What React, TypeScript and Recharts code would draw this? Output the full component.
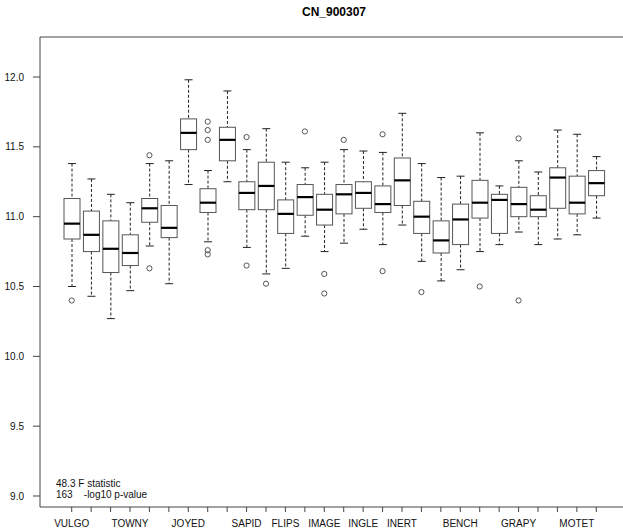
import { ComposedChart, Bar, Scatter, XAxis, YAxis, ReferenceLine } from 'recharts';

// one entry per box; only the labels R had room for are shown
const labels = ['VULGO', '', '', 'TOWNY', '', '', 'JOYED', '', '', 'SAPID', '', 'FLIPS', '', 'IMAGE',
  '', 'INGLE', '', 'INERT', '', '', 'BENCH', '', '', 'GRAPY', '', '', 'MOTET', ''];

const lo = [10.50, 10.43, 10.27, 10.47, 10.79, 10.52, 11.23, 10.82, 11.25, 10.78, 10.59, 10.63, 10.86, 10.75,
  10.81, 10.91, 10.80, 10.94, 10.68, 10.54, 10.62, 10.75, 10.80, 10.89, 10.80, 10.84, 10.87, 10.99];
const q1 = [10.84, 10.75, 10.60, 10.65, 10.96, 10.85, 11.48, 11.03, 11.40, 11.05, 11.05, 10.88, 11.01, 10.94,
  11.02, 11.06, 11.03, 11.08, 10.88, 10.74, 10.80, 10.99, 10.88, 11.00, 11.00, 11.06, 11.02, 11.15];
const med = [10.95, 10.87, 10.77, 10.74, 11.06, 10.92, 11.60, 11.10, 11.55, 11.17, 11.22, 11.02, 11.14, 11.05,
  11.16, 11.17, 11.09, 11.26, 11.00, 10.83, 10.98, 11.10, 11.12, 11.09, 11.05, 11.28, 11.10, 11.24];
const q3 = [11.13, 11.04, 10.97, 10.87, 11.13, 11.08, 11.70, 11.20, 11.64, 11.25, 11.39, 11.12, 11.23, 11.16,
  11.23, 11.25, 11.22, 11.42, 11.11, 10.97, 11.09, 11.26, 11.16, 11.21, 11.15, 11.35, 11.29, 11.33];
const hi = [11.38, 11.27, 11.16, 11.10, 11.38, 11.40, 11.98, 11.33, 11.90, 11.48, 11.63, 11.39, 11.35, 11.39,
  11.48, 11.47, 11.46, 11.74, 11.38, 11.28, 11.29, 11.60, 11.22, 11.40, 11.32, 11.62, 11.59, 11.43];

// outliers: box index + value
const outIdx = [0, 4, 4, 7, 7, 7, 7, 7, 9, 9, 10, 12, 13, 13, 14, 16, 16, 18, 21, 23, 23];
const outVal = [10.40, 11.44, 10.63, 11.68, 11.62, 11.55, 10.76, 10.73, 11.57, 10.65, 10.52, 11.61, 10.59, 10.45,
  11.55, 11.59, 10.61, 10.46, 10.50, 11.56, 10.40];

const yTicks = [9.0, 9.5, 10.0, 10.5, 11.0, 11.5, 12.0];
const yMin = 8.9212;
const yMax = 12.2864;

const data = labels.map((_, i) => ({
  id: 'b' + i,
  range: [lo[i], hi[i]],
  lo: lo[i], q1: q1[i], med: med[i], q3: q3[i], hi: hi[i],
}));
const outliers = outIdx.map((b, i) => ({ id: 'b' + b, v: outVal[i] }));
const labelOf: Record<string, string> = {};
data.forEach((d, i) => { labelOf[d.id] = labels[i]; });

const font = '"Liberation Sans", Arial, sans-serif';

function BoxShape(props: any) {
  const { x, y, width, height, payload } = props;
  if (x == null || !payload) return null;
  const p = payload;
  // linear scale -> interpolate inside the whisker range the bar was given
  const py = (v: number) => y + ((p.hi - v) / (p.hi - p.lo)) * height;
  const cx = x + width / 2;
  const cap = width / 4;
  return (
    <g>
      <line x1={cx} x2={cx} y1={py(p.hi)} y2={py(p.q3)} stroke="#222" strokeDasharray="3 2" />
      <line x1={cx} x2={cx} y1={py(p.q1)} y2={py(p.lo)} stroke="#222" strokeDasharray="3 2" />
      <line x1={cx - cap} x2={cx + cap} y1={py(p.hi)} y2={py(p.hi)} stroke="#222" />
      <line x1={cx - cap} x2={cx + cap} y1={py(p.lo)} y2={py(p.lo)} stroke="#222" />
      <rect x={x} y={py(p.q3)} width={width} height={py(p.q1) - py(p.q3)} fill="#fff" stroke="#555" />
      <line x1={x} x2={x + width} y1={py(p.med)} y2={py(p.med)} stroke="#000" strokeWidth={2.2} />
    </g>
  );
}

function Dot(props: any) {
  const { cx, cy } = props;
  if (cx == null || cy == null) return null;
  return <circle cx={cx} cy={cy} r={2.6} fill="none" stroke="#555" />;
}

export default function App() {
  return (
    <div style={{ position: 'absolute', left: 0, top: 0, width: 623, height: 530, overflow: 'hidden', background: '#fff', fontFamily: font }}>
      <div style={{ position: 'absolute', left: 0, width: 668, top: 5, textAlign: 'center', fontSize: 12, fontWeight: 'bold' }}>
        CN_900307
      </div>
      <ComposedChart width={640} height={530} data={data} margin={{ top: 37, right: 12, bottom: 0, left: 0 }}>
        <XAxis
          dataKey="id"
          type="category"
          allowDuplicatedCategory={false}
          interval={0}
          padding={{ left: 22, right: 22 }}
          height={23}
          tickSize={5}
          tickMargin={8}
          stroke="#444"
          tick={{ fill: '#111', fontSize: 10, fontFamily: font }}
          tickFormatter={(v: string) => labelOf[v] ?? ''}
        />
        <YAxis
          type="number"
          domain={[yMin, yMax]}
          allowDataOverflow
          ticks={yTicks}
          width={40}
          tickSize={7}
          tickMargin={9}
          stroke="#444"
          tick={{ fill: '#111', fontSize: 10, fontFamily: font }}
          tickFormatter={(v: number) => v.toFixed(1)}
        />
        <ReferenceLine y={yMax} stroke="#444" ifOverflow="extendDomain" />
        <Bar dataKey="range" barSize={16} shape={<BoxShape />} isAnimationActive={false} />
        <Scatter data={outliers} dataKey="v" shape={<Dot />} isAnimationActive={false} />
      </ComposedChart>
      <div style={{ position: 'absolute', left: 56, top: 478, fontSize: 10, lineHeight: '11px', color: '#111', whiteSpace: 'pre' }}>
        {'48.3 F statistic\n163    -log10 p-value'}
      </div>
    </div>
  );
}
